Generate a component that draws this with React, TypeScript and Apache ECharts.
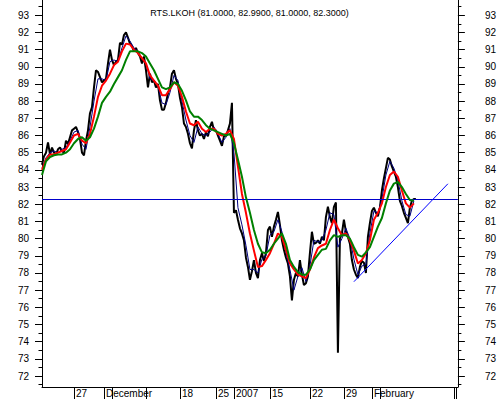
import { useEffect, useRef } from "react";
import * as echarts from "echarts";

const TITLE = "RTS.LKOH (81.0000, 82.9900, 81.0000, 82.3000)";
const Y_MIN = 71.36;
const Y_MAX = 93.89;
const LAST_CLOSE = 82.3;

const Y_MAJOR = [72, 73, 74, 75, 76, 77, 78, 79, 80, 81, 82, 83, 84, 85, 86, 87, 88, 89, 90, 91, 92, 93];
const Y_MINOR = [71.5, 72.5, 73.5, 74.5, 75.5, 76.5, 77.5, 78.5, 79.5, 80.5, 81.5, 82.5, 83.5, 84.5, 85.5, 86.5, 87.5, 88.5, 89.5, 90.5, 91.5, 92.5, 93.5];

const SLOT_COUNT = 209;
const X_LABEL_IDX = [16, 31, 69, 87, 96, 114, 134, 151, 165];
const X_LABELS = ["27", "December", "18", "25", "2007", "15", "22", "29", "February"];
const X_TICK_IDX = [16, 31, 35, 52, 69, 87, 96, 114, 134, 151, 165, 169, 206, 207];

// price (one value per slot)
const PRICE = [
  84.3, 84.8, 85.0, 85.6, 84.9, 85.3, 85.0, 84.9, 85.2, 85.3,
  85.1, 85.0, 85.7, 85.5, 85.9, 86.3, 86.4, 86.5, 86.2, 85.8,
  85.0, 84.85, 85.7, 86.3, 87.3, 87.65, 88.8, 89.8, 89.7, 89.4,
  89.1, 89.2, 89.3, 90.2, 91.0, 90.4, 90.1, 90.3, 90.4, 91.4,
  91.3, 91.85, 92.0, 91.7, 91.35, 91.2, 90.9, 91.1, 90.8, 90.6,
  90.2, 90.6, 89.8, 88.8, 89.6, 89.1, 89.2, 88.8, 89.0, 88.05,
  87.5, 87.5, 87.9, 88.45, 88.8, 89.6, 89.8, 89.3, 89.0, 88.2,
  87.65, 86.7, 86.5, 86.1, 85.55, 85.25, 86.3, 86.9, 86.3, 86.0,
  86.1, 85.8, 86.2, 85.95, 86.5, 86.8, 86.3, 86.3, 86.0, 85.7,
  85.4, 85.95, 86.0, 86.3, 86.7, 87.9, 81.5, 81.65, 81.1, 80.6,
  80.3, 79.9, 78.9, 78.35, 77.6, 78.1, 78.75, 78.0, 77.7, 78.75,
  79.15, 78.7, 79.15, 80.5, 80.7, 80.1, 80.7, 81.1, 81.55, 80.8,
  79.9, 79.35, 78.9, 78.55, 77.8, 76.4, 77.6, 78.0, 77.8, 78.75,
  77.9, 77.3, 77.4, 77.8, 79.15, 80.4, 79.7, 79.75, 79.9, 79.7,
  80.1, 79.9, 81.25, 81.85, 81.25, 80.9, 81.85, 82.1, 73.35, 80.0,
  80.3, 81.1, 80.4, 80.1, 79.7, 78.75, 78.2, 77.9, 77.7, 78.35,
  78.7, 78.6, 78.0, 80.1, 80.9, 81.6, 81.8, 81.5, 81.3, 81.8,
  82.8, 83.5, 84.1, 84.7, 84.6, 84.2, 83.9, 83.6, 83.0, 82.2,
  81.9, 81.5, 81.2, 80.9, 81.8, 82.2, 82.3, 82.3,
];

// averages, one value every second slot
const MA_FAST = [
  84.1, 84.7, 85.0, 85.1, 85.0, 85.2, 85.3, 85.7, 86.2, 86.3,
  85.5, 85.2, 86.5, 88.0, 89.3, 89.3, 89.2, 90.3, 90.4, 90.3,
  91.1, 91.8, 91.5, 91.1, 90.9, 90.5, 90.2, 89.3, 89.2, 88.9,
  87.9, 87.8, 88.5, 89.5, 89.2, 88.0, 86.9, 86.0, 85.6, 86.5,
  86.1, 86.0, 86.2, 86.5, 86.1, 85.6, 85.9, 86.4, 85.0, 81.8,
  80.8, 79.6, 78.2, 78.2, 78.0, 78.8, 79.0, 80.2, 80.4, 81.1,
  80.4, 79.2, 78.2, 77.0, 77.8, 78.3, 77.5, 78.4, 79.9, 79.8,
  79.9, 80.5, 81.5, 81.4, 79.5, 80.0, 80.6, 80.0, 78.8, 77.9,
  78.4, 78.5, 80.3, 81.6, 81.5, 82.3, 83.7, 84.5, 84.1, 83.4,
  82.2, 81.4, 81.3, 82.2,
];

const MA_MID = [
  84.0, 84.6, 84.9, 84.9, 85.0, 85.1, 85.2, 85.6, 86.0, 86.1,
  85.7, 85.55, 86.1, 87.1, 88.25, 88.9, 89.2, 89.6, 90.1, 90.3,
  90.9, 91.35, 91.3, 91.0, 90.8, 90.5, 90.2, 89.5, 89.2, 88.9,
  88.35, 88.35, 88.7, 89.1, 88.9, 88.25, 87.4, 86.7, 86.6, 86.8,
  86.4, 86.2, 86.4, 86.4, 86.1, 86.0, 86.1, 86.3, 85.8, 84.2,
  82.6, 81.5, 80.3, 79.3, 78.35, 78.4, 78.75, 79.15, 79.7, 80.3,
  80.1, 79.35, 78.55, 78.2, 77.9, 77.8, 77.7, 78.2, 78.9, 79.45,
  79.6, 79.7, 80.5, 81.1, 80.6, 80.2, 80.3, 79.9, 79.3, 78.55,
  78.75, 79.15, 79.9, 81.1, 81.5, 82.05, 83.0, 83.7, 83.9, 83.6,
  82.8, 82.05, 81.8, 82.05,
];

const MA_SLOW = [
  83.7, 84.5, 84.75, 84.85, 84.9, 84.9, 85.0, 85.2, 85.55, 85.8,
  85.9, 85.7, 85.9, 86.4, 87.1, 87.9, 88.25, 88.55, 89.0, 89.4,
  89.8, 90.4, 90.9, 90.9, 90.9, 90.8, 90.6, 90.2, 89.8, 89.3,
  88.8, 88.7, 88.8, 89.1, 89.0, 88.6, 88.05, 87.4, 87.1, 87.1,
  86.9, 86.6, 86.4, 86.3, 86.2, 86.1, 86.0, 86.1, 85.55, 84.6,
  83.6, 82.4, 81.5, 80.5, 79.7, 79.2, 79.15, 79.35, 79.7, 80.0,
  80.3, 79.7, 78.75, 78.35, 78.05, 77.9, 77.9, 78.2, 78.75, 79.05,
  79.35, 79.4, 79.9, 80.2, 80.1, 80.2, 80.2, 80.0, 79.5, 79.05,
  78.95, 79.2, 79.5, 80.1, 80.7, 81.2, 82.05, 82.8, 83.2, 83.3,
  83.0, 82.6, 82.25, 82.2,
];

const TREND_SLOTS = [156, 203];
const TREND_VALUES = [77.49, 83.19];

const FONT = "Liberation Sans, Arial, sans-serif";

export default function App() {
  const ref = useRef<HTMLDivElement>(null);

  useEffect(() => {
    if (!ref.current) return;
    const chart = echarts.init(ref.current, null, { renderer: "svg" });

    const categories = Array.from({ length: SLOT_COUNT }, () => "");
    X_LABEL_IDX.forEach((idx, k) => {
      categories[idx] = X_LABELS[k];
    });

    const every2 = (arr: number[]) => arr.map((v, i) => [i * 2, v]);

    const yMajorAxis = (position: "left" | "right", margin: number, align: string) => ({
      type: "value",
      position,
      min: Y_MIN,
      max: Y_MAX,
      axisLine: { show: true, lineStyle: { color: "#000", width: 1 } },
      axisTick: { show: true, inside: false, length: 7, customValues: Y_MAJOR, lineStyle: { color: "#000", width: 1 } },
      axisLabel: {
        show: true,
        customValues: Y_MAJOR,
        margin,
        align,
        color: "#000",
        fontSize: 10,
        fontFamily: FONT,
      },
      splitLine: { show: false },
    });

    const yMinorAxis = (position: "left" | "right") => ({
      type: "value",
      position,
      min: Y_MIN,
      max: Y_MAX,
      axisLine: { show: false },
      axisTick: { show: true, inside: false, length: 3.5, customValues: Y_MINOR, lineStyle: { color: "#000", width: 1 } },
      axisLabel: { show: false },
      splitLine: { show: false },
    });

    chart.setOption({
      animation: false,
      backgroundColor: "#fff",
      title: {
        text: TITLE,
        left: "center",
        top: 3,
        textStyle: { fontSize: 9, fontWeight: "normal", color: "#000", fontFamily: FONT },
      },
      grid: { left: 42, right: 41, top: 0, bottom: 12, containLabel: false },
      xAxis: {
        type: "category",
        data: categories,
        boundaryGap: false,
        axisLine: { show: true, lineStyle: { color: "#000", width: 1 } },
        axisTick: {
          show: true,
          inside: false,
          length: 13,
          interval: (index: number) => X_TICK_IDX.includes(index),
          lineStyle: { color: "#000", width: 1 },
        },
        axisLabel: {
          show: true,
          interval: 0,
          align: "left",
          verticalAlign: "top",
          margin: 1,
          padding: [0, 0, 0, 2],
          color: "#000",
          fontSize: 10,
          fontFamily: FONT,
          hideOverlap: false,
        },
        splitLine: { show: false },
      },
      yAxis: [
        yMajorAxis("left", 13, "right"),
        yMinorAxis("left"),
        yMajorAxis("right", 27, "left"),
        yMinorAxis("right"),
      ],
      series: [
        {
          name: "price",
          type: "line",
          data: PRICE,
          yAxisIndex: 0,
          symbol: "none",
          lineStyle: { color: "#000", width: 2 },
          z: 2,
          markLine: {
            silent: true,
            symbol: "none",
            label: { show: false },
            lineStyle: { color: "#0000cc", width: 1, type: "solid" },
            data: [{ yAxis: LAST_CLOSE }],
          },
        },
        {
          name: "fast",
          type: "line",
          data: every2(MA_FAST),
          yAxisIndex: 0,
          symbol: "none",
          lineStyle: { color: "#000080", width: 1 },
          z: 3,
        },
        {
          name: "mid",
          type: "line",
          data: every2(MA_MID),
          yAxisIndex: 0,
          symbol: "none",
          lineStyle: { color: "#ff0000", width: 2 },
          z: 4,
        },
        {
          name: "slow",
          type: "line",
          data: every2(MA_SLOW),
          yAxisIndex: 0,
          symbol: "none",
          lineStyle: { color: "#008000", width: 2 },
          z: 5,
        },
        {
          name: "trend",
          type: "line",
          data: TREND_SLOTS.map((s, i) => [s, TREND_VALUES[i]]),
          yAxisIndex: 0,
          symbol: "none",
          lineStyle: { color: "#0000ff", width: 1 },
          z: 6,
        },
      ],
    });

    return () => chart.dispose();
  }, []);

  return (
    <div
      ref={ref}
      style={{ position: "fixed", left: 0, top: 0, width: 499, height: 399, background: "#fff" }}
    />
  );
}
